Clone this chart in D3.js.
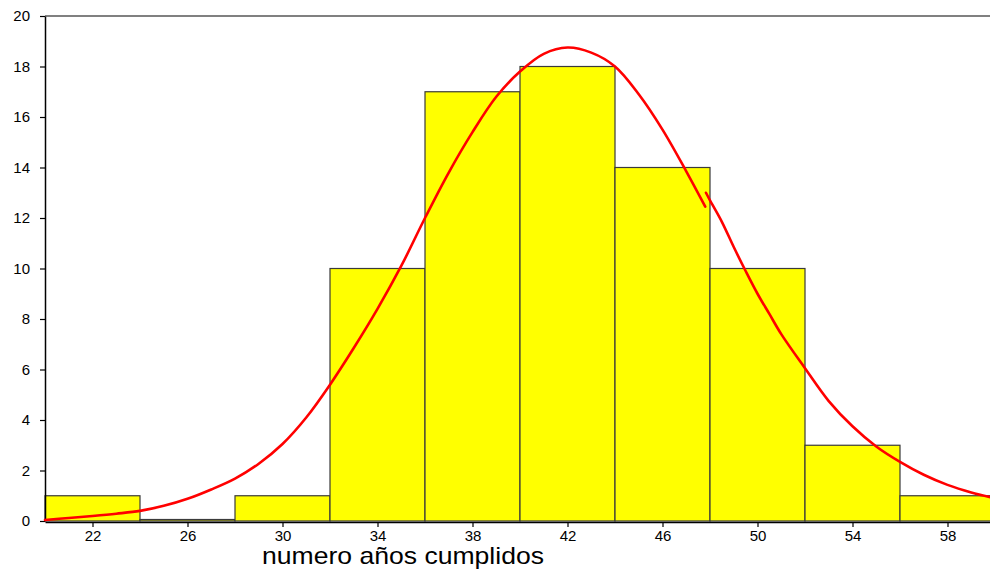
<!DOCTYPE html>
<html>
<head>
<meta charset="utf-8">
<script src="https://cdn.jsdelivr.net/npm/d3@7/dist/d3.min.js"></script>
<style>
  html, body { margin: 0; padding: 0; background: #fff; }
  svg { display: block; font-family: Arial, "Liberation Sans", sans-serif; }
</style>
</head>
<body>
<svg id="chart" width="990" height="574"></svg>
<script>
// Age histogram: bin edges and counts
const binEdges = [20, 24, 28, 32, 36, 40, 44, 48, 52, 56, 60];
const counts = [1, 0, 1, 10, 17, 18, 14, 10, 3, 1];

// Axis ticks
const xTickValues = [22, 26, 30, 34, 38, 42, 46, 50, 54, 58];
const yTickValues = [0, 2, 4, 6, 8, 10, 12, 14, 16, 18, 20];

// Fitted curve, drawn as two strokes (age, frequency)
const curveAgeA = [20, 21, 22, 23, 24, 25, 26, 27, 28, 29, 30, 31, 32, 33, 34, 35, 36, 37, 38, 39, 40, 41, 42, 43, 44, 45, 46, 47, 47.8];
const curveFreqA = [0.04, 0.12, 0.2, 0.29, 0.4, 0.6, 0.88, 1.25, 1.68, 2.27, 3.05, 4.1, 5.4, 6.85, 8.4, 10.1, 12.0, 13.8, 15.4, 16.8, 17.8, 18.5, 18.75, 18.55, 18.0, 16.9, 15.5, 13.85, 12.45];
const curveAgeB = [47.83, 48, 48.5, 49, 49.5, 50, 50.5, 51, 52, 53, 54, 55, 56, 57, 58, 59, 60];
const curveFreqB = [13.0, 12.7, 11.85, 10.85, 9.9, 9.0, 8.2, 7.4, 6.05, 4.75, 3.75, 2.95, 2.34, 1.83, 1.43, 1.13, 0.9];

const xTitle = "numero años cumplidos";

const svg = d3.select("#chart");
const plot = { left: 45, right: 995, top: 16, bottom: 521 };

const x = d3.scaleLinear().domain([20, 60]).range([plot.left, plot.right]);
const y = d3.scaleLinear().domain([0, 20]).range([plot.bottom, plot.top]);

// Top frame line
svg.append("line")
  .attr("x1", plot.left).attr("x2", plot.right)
  .attr("y1", plot.top).attr("y2", plot.top)
  .attr("stroke", "#808080").attr("stroke-width", 2);

// Bars
const bins = counts.map((c, i) => ({ x0: binEdges[i], x1: binEdges[i + 1], count: c }));
svg.append("g").selectAll("rect")
  .data(bins)
  .join("rect")
  .attr("x", d => x(d.x0))
  .attr("width", d => x(d.x1) - x(d.x0))
  .attr("y", d => Math.min(y(d.count), plot.bottom - 1.5))
  .attr("height", d => Math.max(plot.bottom - y(d.count), 1.5))
  .attr("fill", "#ffff00")
  .attr("stroke", "#3a3a3a")
  .attr("stroke-width", 1.2);

// Y axis
const yAxis = svg.append("g")
  .attr("transform", `translate(${plot.left},0)`)
  .call(d3.axisLeft(y).tickValues(yTickValues).tickSize(5).tickSizeOuter(0).tickPadding(10));
yAxis.select(".domain").attr("stroke", "#000").attr("stroke-width", 1.5);
yAxis.selectAll(".tick line").attr("stroke", "#000").attr("stroke-width", 1.2);
yAxis.selectAll(".tick text").attr("font-size", 15).attr("fill", "#000")
  .attr("font-family", "Arial, 'Liberation Sans', sans-serif");

// X axis
const xAxis = svg.append("g")
  .attr("transform", `translate(0,${plot.bottom + 1})`)
  .call(d3.axisBottom(x).tickValues(xTickValues).tickSize(5).tickSizeOuter(0).tickPadding(3));
xAxis.select(".domain").attr("stroke", "#000").attr("stroke-width", 1.5);
xAxis.selectAll(".tick line").attr("stroke", "#000").attr("stroke-width", 1.2);
xAxis.selectAll(".tick text").attr("font-size", 15).attr("fill", "#000")
  .attr("font-family", "Arial, 'Liberation Sans', sans-serif");

// X axis title
svg.append("text")
  .attr("x", 262).attr("y", 564)
  .attr("font-size", 24)
  .attr("textLength", 282)
  .attr("lengthAdjust", "spacingAndGlyphs")
  .attr("fill", "#000")
  .text(xTitle);

// Fitted curve
const line = d3.line()
  .x(d => x(d[0]))
  .y(d => y(d[1]))
  .curve(d3.curveCatmullRom);

[[curveAgeA, curveFreqA], [curveAgeB, curveFreqB]].forEach(([ages, freqs]) => {
  svg.append("path")
    .datum(ages.map((a, i) => [a, freqs[i]]))
    .attr("d", line)
    .attr("fill", "none")
    .attr("stroke", "#ff0000")
    .attr("stroke-width", 2.6)
    .attr("stroke-linecap", "round");
});
</script>
</body>
</html>
